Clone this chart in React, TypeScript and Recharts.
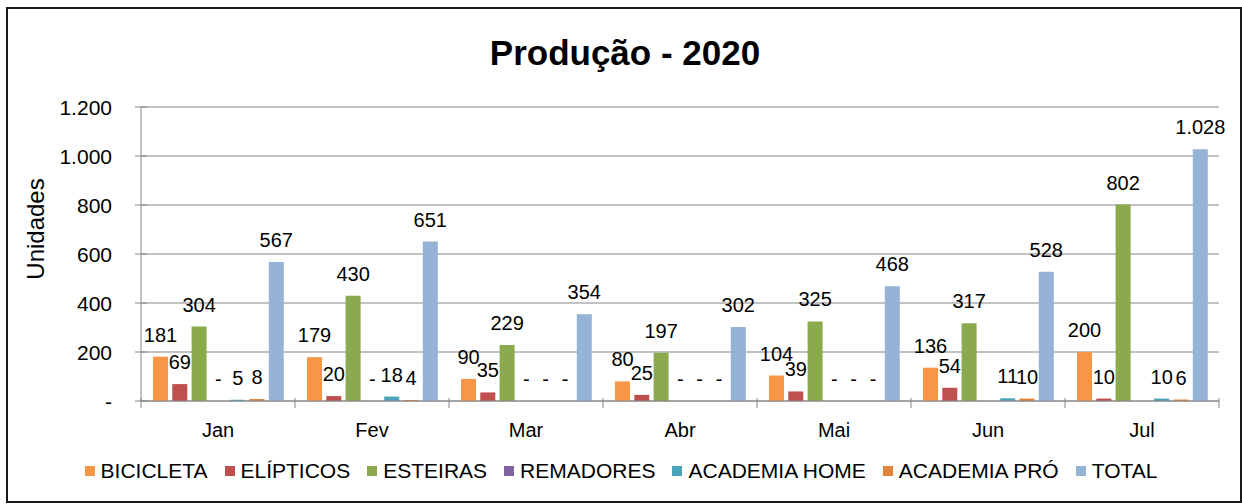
import React from 'react';
import { BarChart, Bar, XAxis, YAxis, CartesianGrid, Legend, LabelList } from 'recharts';

const months = ['Jan', 'Fev', 'Mar', 'Abr', 'Mai', 'Jun', 'Jul'];
const bicicleta = [181, 179, 90, 80, 104, 136, 200];
const elipticos = [69, 20, 35, 25, 39, 54, 10];
const esteiras = [304, 430, 229, 197, 325, 317, 802];
const remadores: (number | null)[] = [0, 0, 0, 0, 0, null, null];
const academiaHome = [5, 18, 0, 0, 0, 11, 10];
const academiaPro = [8, 4, 0, 0, 0, 10, 6];
const total = [567, 651, 354, 302, 468, 528, 1028];
const yTicks = [0, 200, 400, 600, 800, 1000, 1200];

const title = 'Produção - 2020';
const yLabel = 'Unidades';

const series = [
  { key: 'bicicleta', name: 'BICICLETA', color: '#F79646', values: bicicleta },
  { key: 'elipticos', name: 'ELÍPTICOS', color: '#C0504D', values: elipticos },
  { key: 'esteiras', name: 'ESTEIRAS', color: '#8BAA4E', values: esteiras },
  { key: 'remadores', name: 'REMADORES', color: '#8064A2', values: remadores },
  { key: 'academiaHome', name: 'ACADEMIA HOME', color: '#4AA3BA', values: academiaHome },
  { key: 'academiaPro', name: 'ACADEMIA PRÓ', color: '#E2843C', values: academiaPro },
  { key: 'total', name: 'TOTAL', color: '#95B3D7', values: total },
];

const data = months.map((m, i) => {
  const row: Record<string, any> = { month: m };
  series.forEach((s) => {
    row[s.key] = s.values[i];
  });
  return row;
});

const FONT = '"Liberation Sans", Arial, sans-serif';
const AXIS = '#868686';

const fmt = (v: number) => {
  if (v === 0) return '-';
  return String(v).replace(/\B(?=(\d{3})+(?!\d))/g, '.');
};

const DataLabel = (props: any) => {
  const { x, y, width, value } = props;
  if (value === null || value === undefined) return null;
  const v = Array.isArray(value) ? value[1] - value[0] : Number(value);
  return (
    <text
      x={Number(x) + Number(width) / 2}
      y={Number(y) - 22}
      textAnchor="middle"
      dominantBaseline="central"
      fontSize={20}
      fontFamily={FONT}
      fill="#000"
    >
      {fmt(Math.round(v))}
    </text>
  );
};

const YTick = (props: any) => {
  const { x, y, payload } = props;
  return (
    <g>
      <line x1={x - 6} x2={x + 6} y1={y} y2={y} stroke={AXIS} strokeWidth={1} />
      <text
        x={x - 29}
        y={y}
        textAnchor="end"
        dominantBaseline="central"
        fontSize={21}
        fontFamily={FONT}
        fill="#000"
      >
        {fmt(Number(payload.value))}
      </text>
    </g>
  );
};

const XTick = (props: any) => {
  const { x, y, payload, index } = props;
  const off = payload && typeof payload.offset === 'number' && payload.offset > 0 ? payload.offset : 77;
  return (
    <g>
      <line x1={x - off} x2={x - off} y1={y - 3} y2={y + 7} stroke={AXIS} strokeWidth={1} />
      {index === months.length - 1 && (
        <line x1={x + off} x2={x + off} y1={y - 3} y2={y + 7} stroke={AXIS} strokeWidth={1} />
      )}
      <text x={x} y={y + 36} textAnchor="middle" fontSize={20} fontFamily={FONT} fill="#000">
        {payload.value}
      </text>
    </g>
  );
};

const LegendContent = () => (
  <div
    style={{
      display: 'flex',
      justifyContent: 'center',
      alignItems: 'center',
      fontFamily: FONT,
      fontSize: 21,
      color: '#000',
      gap: 17,
      whiteSpace: 'nowrap',
    }}
  >
    {series.map((s) => (
      <div key={s.key} style={{ display: 'flex', alignItems: 'center' }}>
        <span
          style={{ display: 'inline-block', width: 10, height: 10, background: s.color, marginRight: 6 }}
        />
        <span>{s.name}</span>
      </div>
    ))}
  </div>
);

const zeroMin = (value: any) => (value === 0 ? 0.001 : 0);

export default function App() {
  return (
    <div style={{ position: 'absolute', left: 0, top: 0, width: 1242, height: 504, background: '#fff' }}>
      <BarChart
        width={1242}
        height={504}
        data={data}
        margin={{ top: 107, right: 23, bottom: 43, left: 81 }}
        barGap={4.3}
        barSize={15}
        barCategoryGap={0}
      >
        <CartesianGrid vertical={false} stroke={AXIS} strokeWidth={1} />
        <XAxis
          dataKey="month"
          height={60}
          interval={0}
          tickLine={false}
          tickSize={0}
          tickMargin={0}
          axisLine={{ stroke: AXIS, strokeWidth: 1 }}
          tick={<XTick />}
        />
        <YAxis
          width={60}
          domain={[0, 1200]}
          ticks={yTicks}
          interval={0}
          tickLine={false}
          tickSize={0}
          tickMargin={0}
          axisLine={{ stroke: AXIS, strokeWidth: 1 }}
          tick={<YTick />}
          label={{
            content: () => (
              <text
                x={35}
                y={229}
                transform="rotate(-90, 35, 229)"
                textAnchor="middle"
                dominantBaseline="central"
                fontSize={24}
                fontFamily={FONT}
                fill="#000"
              >
                {yLabel}
              </text>
            ),
          }}
        />
        <Legend
          layout="horizontal"
          verticalAlign="middle"
          align="center"
          wrapperStyle={{ top: 459, left: 0, width: 1242, height: 26 }}
          content={<LegendContent />}
        />
        {series.map((s) => (
          <Bar
            key={s.key}
            dataKey={s.key}
            name={s.name}
            fill={s.color}
            minPointSize={zeroMin as any}
            isAnimationActive={false}
          >
            <LabelList dataKey={s.key} content={<DataLabel />} />
          </Bar>
        ))}
      </BarChart>
      <svg
        width={1242}
        height={100}
        style={{ position: 'absolute', left: 0, top: 0, pointerEvents: 'none' }}
      >
        <text x={625} y={65} textAnchor="middle" fontSize={35} fontWeight="bold" fontFamily={FONT} fill="#000">
          {title}
        </text>
      </svg>
      <div
        style={{
          position: 'absolute',
          left: 6,
          top: 7,
          width: 1236,
          height: 496,
          boxSizing: 'border-box',
          border: '2px solid #1a1a1a',
          pointerEvents: 'none',
        }}
      />
    </div>
  );
}
